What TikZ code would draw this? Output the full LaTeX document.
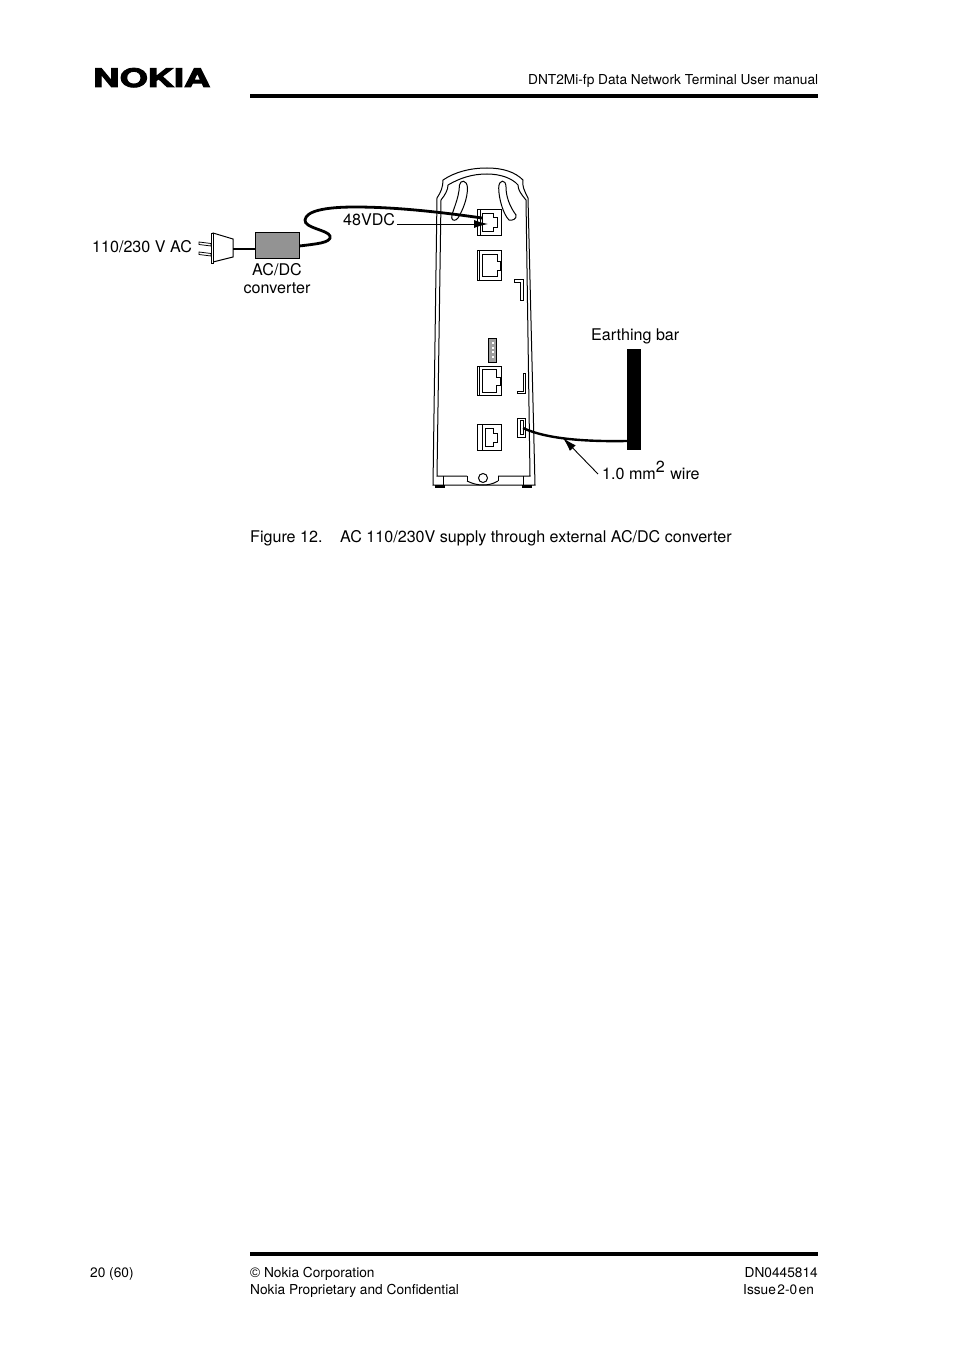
\documentclass[tikz,border=0pt]{standalone}
\usepackage{fontspec}
\setmainfont{TeX Gyre Heros}
\newfontfamily\logofont[FakeBold=3.5]{TeX Gyre Heros Bold}
\newfontfamily\symfont{Liberation Sans}
\usetikzlibrary{arrows.meta}
\tikzset{
  txt/.style={inner sep=0pt,anchor=base west,font=\fontsize{16.1}{19}\selectfont},
  small/.style={inner sep=0pt,anchor=base west,font=\fontsize{13.7}{16}\selectfont},
  body/.style={draw=black,line width=1pt,fill=white},
  thin part/.style={draw=black,line width=1pt},
  cable/.style={draw=black,line width=2.8pt},
  leader/.style={draw=black,line width=0.9pt,-{Latex[length=14pt,width=8pt]}},
  rule/.style={draw=black,line width=3.2pt}
}
\begin{document}
\begin{tikzpicture}[x=1pt,y=-1pt]
          \useasboundingbox[fill=white] (0,0) rectangle (954,1351);
          \node[inner sep=0pt,anchor=base west] (logo) at (93,87) {\logofont\fontsize{25.5}{25}\selectfont\scalebox{1.42}[1]{NOKIA}};
          \node[small] (title) at (528,84.5) {DNT2Mi-fp Data Network Terminal User manual};
          \draw[rule] (250,96)--(818,96);
          \draw[rule] (250,1254)--(818,1254);
          \draw[body] (443,180) .. controls (455,172) and (470,168) .. (487,168) .. controls (503,168) and (515,172) .. (523,180)
            .. controls (522,186) and (524,190) .. (528,198) -- (535,485) -- (433,485) -- (437,198) .. controls (441,192) and (443,187) .. (443,180) -- cycle;
          \draw[thin part] (448,185) .. controls (460,178) and (472,174) .. (487,174) .. controls (500,174) and (512,178) .. (518,185)
            .. controls (518,190) and (521,194) .. (526,200) -- (530,476) -- (498,476) (467,476) -- (437,476) -- (441,200) .. controls (445,195) and (448,190) .. (448,185);
          \draw[thin part] (443,476)--(443,485) (467,476)--(467,481) (498,476)--(498,481) (523,476)--(523,485);
          \draw[thin part] (467,481) .. controls (473,484) and (478,485) .. (483,485) .. controls (488,485) and (493,484) .. (498,481);
          \draw[body] (483,478) circle (4.5);
          \fill (435,485) rectangle (445,487.5);
          \fill (522,485) rectangle (532,487.5);
          \draw[thin part] (459.5,185) .. controls (460,180) and (467,179) .. (467.5,188) .. controls (467.5,198) and (463,210) .. (458,218)
            .. controls (456,221) and (452,221) .. (451.7,218) .. controls (451.5,212) and (459,200) .. (459.5,185) -- cycle;
          \draw[thin part] (498.7,188) .. controls (498.7,179) and (506,179) .. (506,187) .. controls (506,197) and (510,207) .. (516,215)
            .. controls (517,219) and (512,221) .. (509,220) .. controls (503,214) and (498.7,198) .. (498.7,188) -- cycle;
          \draw[body] (477,209) rectangle (501,235);
          \draw[thin part] (480,209)--(480,235);
          \draw[thin part] (482,213)--(493,213)--(493,217)--(497,217)--(497,227)--(493,227)--(493,231)--(482,231)--cycle;
          \draw[body] (477,250) rectangle (501,280);
          \draw[thin part] (479,250)--(479,280);
          \draw[thin part] (482,254)--(497,254)--(497,261)--(500,261)--(500,270)--(497,270)--(497,276)--(482,276)--cycle;
          \draw[thin part] (514,279)--(523,279)--(523,300)--(520.5,300)--(520.5,282)--(514,282)--cycle;
          \draw[thin part,fill=gray!75] (488,338) rectangle (496,362);
          \foreach \i in {342,346.5,351,355.5}
            \fill[white] (491.5,\i) rectangle (493.5,\i+2);
          \draw[body] (477,366) rectangle (501,395);
          \draw[thin part] (479,366)--(479,395);
          \draw[thin part] (482,369)--(496,369)--(496,377)--(500,377)--(500,385)--(496,385)--(496,392)--(482,392)--cycle;
          \draw[thin part] (523,373)--(525.5,373)--(525.5,393.5)--(517,393.5)--(517,391)--(523,391)--cycle;
          \draw[thin part] (517,418) rectangle (525,437);
          \draw[thin part] (520,420) rectangle (523,434);
          \draw[body] (477,424) rectangle (501,450);
          \draw[thin part] (482,424)--(482,450);
          \draw[thin part] (485,428)--(493,428)--(493,433)--(497,433)--(497,442)--(493,442)--(493,446)--(485,446)--cycle;
          \node[txt] (mains) at (92,252) {110/230 V AC};
          \node[inner sep=0pt,minimum width=44pt,minimum height=26pt,draw=black,line width=0.8pt,fill=gray!85!white] (conv) at (277,245) {};
          \node[txt,anchor=base] (convA) at (277,275) {AC/DC};
          \node[txt,anchor=base] (convB) at (277,293) {converter};
          \node[txt] (dc) at (343,225) {48VDC};
          \node[txt] (bartxt) at (591,340) {Earthing bar};
          \node[inner sep=0pt,minimum width=14pt,minimum height=101pt,fill=black] (bar) at (634,399.5) {};
          \node[txt] (wiretxt) at (602,479) {1.0 mm\raisebox{7pt}{2}\hspace{1pt} wire};
          \draw[body] (213,233)--(233,239)--(233,257)--(213,262)--cycle;
          \draw[body] (211,233) rectangle (213,263);
          \draw[thin part,line width=0.8pt] (199,242)--(211,243.5)--(211,246)--(199,244.5)--cycle;
          \draw[thin part,line width=0.8pt] (199,252)--(211,253.5)--(211,256)--(199,254.5)--cycle;
          \coordinate (plug) at (233,249);
          \coordinate (jackin) at (482,218);
          \coordinate (dcjack) at (488,224);
          \coordinate (lug) at (523,428);
          \coordinate (wirept) at (563,438);
          \draw[cable] (plug)--(conv.west |- plug);
          \draw[cable] (conv.east |- 0,246) .. controls (315,244) and (332,243) .. (330,236) .. controls (328,230) and (304,228) .. (305,220)
            .. controls (306,211) and (325,207) .. (355,207) .. controls (395,207) and (440,212) .. (jackin);
          \draw[cable,line width=2.4pt] (lug) .. controls (540,436) and (570,442) .. (bar.west |- 0,441);
          \draw[leader] ([xshift=2pt]dc.east |- 0,224) -- (dcjack);
          \draw[leader] ([xshift=-4pt]wiretxt.west |- 0,474) -- (wirept);
          \node[txt] (figno) at (250,542) {Figure 12.};
          \node[txt] (figcap) at (340,542) {AC 110/230V supply through external AC/DC converter};
          \node[small] (page) at (90,1277) {20 (60)};
          \node[small] (corp) at (250,1277) {{\symfont ©} Nokia Corporation};
          \node[small] (conf) at (250,1294) {Nokia Proprietary and Confidential};
          \node[small,anchor=base east] (docno) at (818,1277) {DN0445814};
          \node[small] (issue) at (743,1294) {Issue\hspace{1.5pt}2-0\hspace{1.5pt}en};
        \end{tikzpicture}
\end{document}
